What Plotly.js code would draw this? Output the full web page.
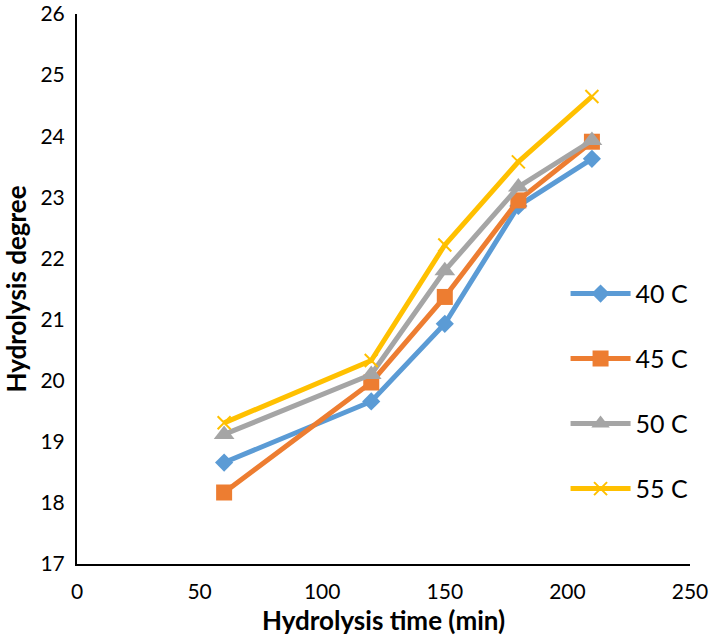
<!DOCTYPE html>
<html>
<head>
<meta charset="utf-8">
<script src="https://cdn.plot.ly/plotly-3.0.1.min.js"></script>
<style>
html,body{margin:0;padding:0;background:#fff;}
#chart{width:709px;height:644px;}
</style>
</head>
<body>
<div id="chart"></div>
<script>
const times = [60, 120, 150, 180, 210];
const seriesNames = ["40 C", "45 C", "50 C", "55 C"];
const deg40 = [18.66, 19.66, 20.93, 22.86, 23.63];
const deg45 = [18.17, 19.97, 21.37, 22.95, 23.91];
const deg50 = [19.12, 20.10, 21.80, 23.17, 23.93];
const deg55 = [19.31, 20.33, 22.22, 23.58, 24.65];
const xTicks = [0, 50, 100, 150, 200, 250];
const yTicks = [17, 18, 19, 20, 21, 22, 23, 24, 25, 26];

const colors = ["#5B9BD5", "#ED7D31", "#A5A5A5", "#FFC000"];
const symbols = ["diamond", "square", "triangle-up", "x-thin-open"];
const sizes = [14, 16, 18, 13];
const allY = [deg40, deg45, deg50, deg55];

const traces = allY.map((ys, i) => ({
  x: times,
  y: ys,
  name: seriesNames[i],
  type: "scatter",
  mode: "lines+markers",
  legendgroup: "g" + i,
  line: {color: colors[i], width: 5},
  marker: {
    symbol: symbols[i],
    size: sizes[i],
    color: colors[i],
    line: {color: colors[i], width: i === 3 ? 2 : 0}
  }
}));

const font = "Lato, 'Open Sans', sans-serif";
const layout = {
  width: 709,
  height: 644,
  margin: {l: 77, r: 19, t: 14, b: 80},
  paper_bgcolor: "#fff",
  plot_bgcolor: "#fff",
  font: {family: font, color: "#000", size: 21},
  showlegend: true,
  legend: {
    x: 0.797, y: 0.533, xanchor: "left", yanchor: "top",
    traceorder: "grouped", tracegroupgap: 29.5,
    itemwidth: 60,
    font: {family: font, size: 25, color: "#000"},
    bgcolor: "rgba(0,0,0,0)"
  },
  xaxis: {
    range: [0, 250],
    tickvals: xTicks,
    ticktext: xTicks.map(String),
    showgrid: false, zeroline: false,
    showline: true, linecolor: "#000", linewidth: 2,
    ticks: "", ticklen: 0,
    ticklabelstandoff: 8,
    tickfont: {family: font, size: 21, color: "#000"},
    title: {text: "<b>Hydrolysis time (min)</b>", font: {family: font, size: 26, color: "#000"}, standoff: 10}
  },
  yaxis: {
    range: [17, 26],
    tickvals: yTicks,
    ticktext: yTicks.map(String),
    showgrid: false, zeroline: false,
    showline: true, linecolor: "#000", linewidth: 2,
    ticks: "", ticklen: 0,
    ticklabelstandoff: 6,
    tickfont: {family: font, size: 21, color: "#000"},
    title: {text: "<b>Hydrolysis degree</b>", font: {family: font, size: 26, color: "#000"}, standoff: 6}
  }
};

Plotly.newPlot("chart", traces, layout, {staticPlot: true, displayModeBar: false});
</script>
</body>
</html>
